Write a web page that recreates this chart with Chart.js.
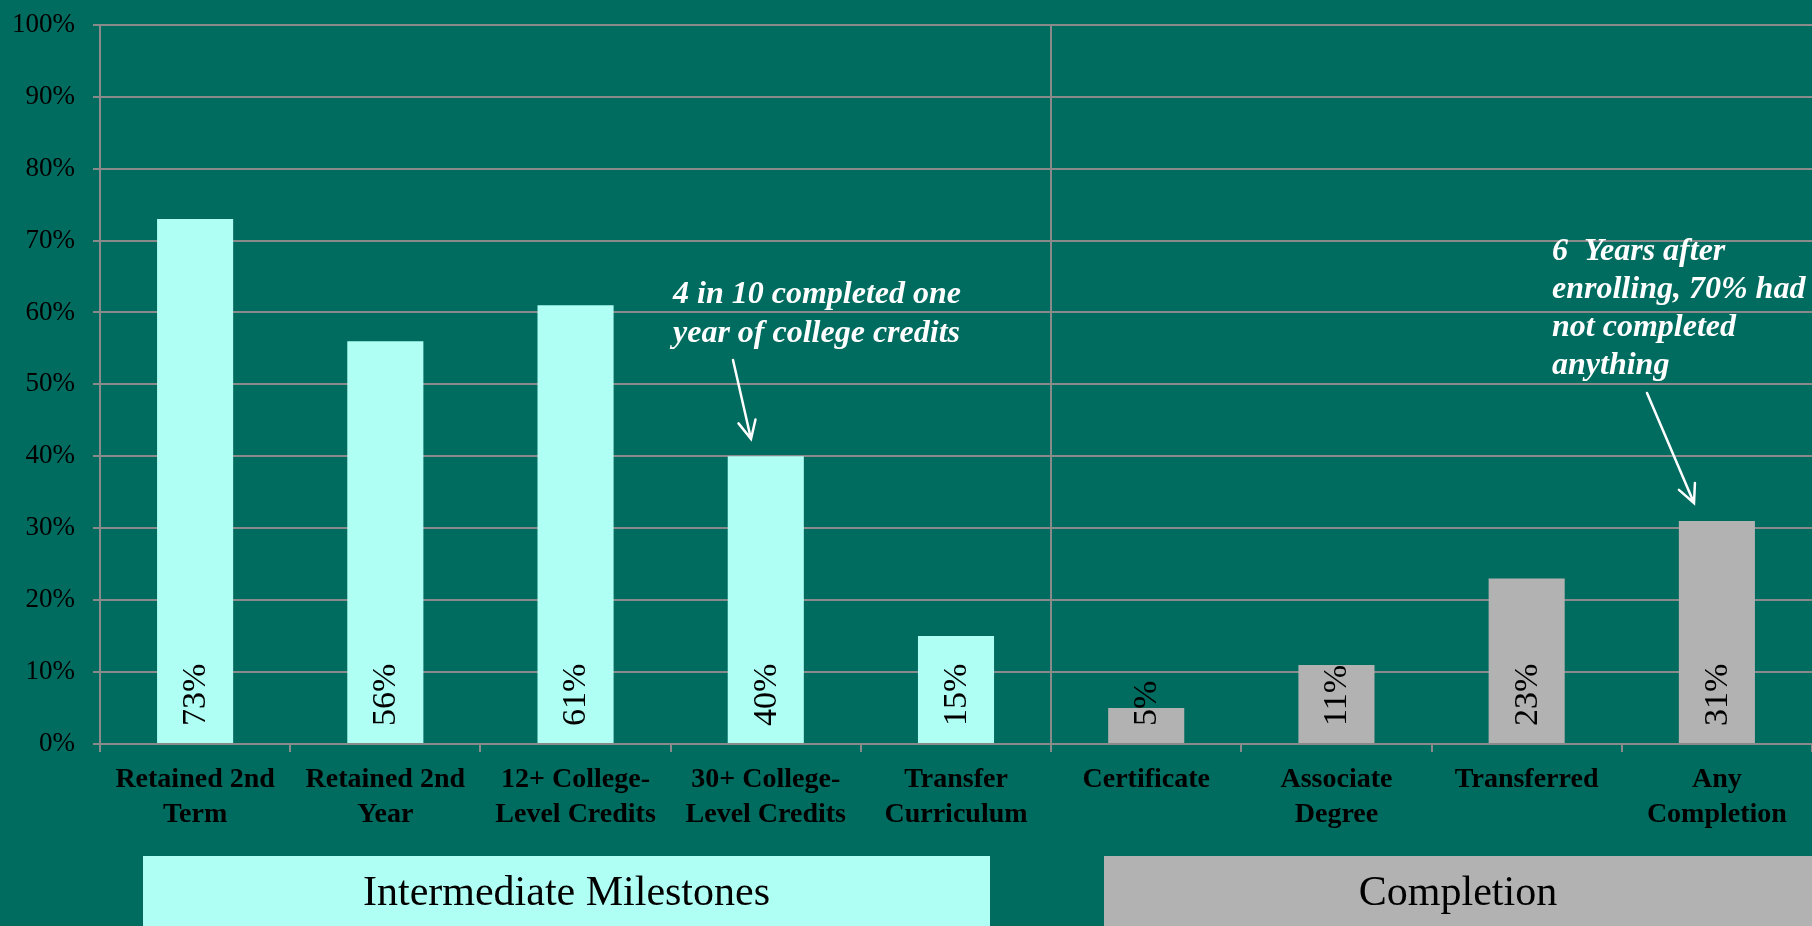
<!DOCTYPE html>
<html>
<head>
<meta charset="utf-8">
<script src="https://cdn.jsdelivr.net/npm/chart.js@4/dist/chart.umd.min.js"></script>
<style>
  html, body { margin: 0; padding: 0; background: #006b5f; }
  #wrap { width: 1812px; height: 926px; position: relative; }
</style>
</head>
<body>
<div id="wrap"><canvas id="milestoneChart"></canvas></div>
<script>
// categories and values
let categories = [
    ['Retained 2nd', 'Term'],
    ['Retained 2nd', 'Year'],
    ['12+ College-', 'Level Credits'],
    ['30+ College-', 'Level Credits'],
    ['Transfer', 'Curriculum'],
    ['Certificate'],
    ['Associate', 'Degree'],
    ['Transferred'],
    ['Any', 'Completion']
];
let shareValues = [73, 56, 61, 40, 15, 5, 11, 23, 31];
let groupNames = ['Intermediate Milestones', 'Completion'];
let groupOf = [0, 0, 0, 0, 0, 1, 1, 1, 1];
let yTicks = [0, 10, 20, 30, 40, 50, 60, 70, 80, 90, 100];

let cyan = '#b0fff4';
let grey = '#b2b2b2';
let gridGrey = '#8a8a8a';
let serif = "'Liberation Serif', 'Times New Roman', serif";

// bar value labels, rotated, sitting at the bottom of each bar
let barLabels = {
    id: 'barLabels',
    afterDatasetsDraw(chart) {
        let ctx = chart.ctx;
        let meta = chart.getDatasetMeta(0);
        ctx.save();
        ctx.fillStyle = '#000';
        ctx.font = '34px ' + serif;
        ctx.textAlign = 'left';
        ctx.textBaseline = 'middle';
        meta.data.forEach(function(bar, i) {
            ctx.save();
            ctx.translate(bar.x + 1, bar.base - 17);
            ctx.rotate(-Math.PI / 2);
            ctx.fillText(shareValues[i] + '%', 0, 0);
            ctx.restore();
        });
        ctx.restore();
    }
};

function arrow(ctx, x1, y1, x2, y2) {
    let a = Math.atan2(y2 - y1, x2 - x1);
    ctx.beginPath();
    ctx.moveTo(x1, y1);
    ctx.lineTo(x2, y2);
    ctx.moveTo(x2 - 20 * Math.cos(a - 0.45), y2 - 20 * Math.sin(a - 0.45));
    ctx.lineTo(x2, y2);
    ctx.lineTo(x2 - 20 * Math.cos(a + 0.45), y2 - 20 * Math.sin(a + 0.45));
    ctx.stroke();
}

// group boxes under the axis + the two call-outs
let extras = {
    id: 'extras',
    afterDraw(chart) {
        let ctx = chart.ctx;
        ctx.save();
        ctx.font = '42px ' + serif;
        ctx.textAlign = 'center';
        ctx.textBaseline = 'middle';
        let boxes = [[143, 990, cyan], [1104, 1812, grey]];
        boxes.forEach(function(b, i) {
            ctx.fillStyle = b[2];
            ctx.fillRect(b[0], 856, b[1] - b[0], 926 - 856);
            ctx.fillStyle = '#000';
            ctx.fillText(groupNames[i], (b[0] + b[1]) / 2, 894);
        });

        ctx.fillStyle = '#fff';
        ctx.strokeStyle = '#fff';
        ctx.lineWidth = 2.5;
        ctx.lineCap = 'round';
        ctx.font = 'italic bold 32px ' + serif;
        ctx.textAlign = 'left';
        ctx.fillText('4 in 10 completed one', 673, 295);
        ctx.fillText('year of college credits', 673, 334);
        arrow(ctx, 733, 360, 751, 439);

        let note = ['6  Years after', 'enrolling, 70% had', 'not completed', 'anything'];
        note.forEach(function(t, i) {
            ctx.fillText(t, 1552, 252 + i * 38);
        });
        arrow(ctx, 1647, 393, 1694, 503);
        ctx.restore();
    }
};

let chartCtx = document.getElementById('milestoneChart').getContext('2d');
new Chart(chartCtx, {
    type: 'bar',
    data: {
        labels: categories,
        datasets: [{
            data: shareValues,
            backgroundColor: groupOf.map(g => g === 0 ? cyan : grey),
            barPercentage: 0.4,
            categoryPercentage: 1.0
        }]
    },
    options: {
        responsive: true,
        maintainAspectRatio: false,
        animation: false,
        layout: { padding: { top: 22, right: 0, left: 0, bottom: 0 } },
        plugins: { legend: { display: false }, tooltip: { enabled: false } },
        scales: {
            x: {
                grid: {
                    offset: true,
                    color: c => c.index === 5 ? gridGrey : 'rgba(0,0,0,0)',
                    tickColor: gridGrey,
                    tickLength: 8,
                    lineWidth: 2
                },
                border: { color: gridGrey, width: 2 },
                ticks: {
                    color: '#000',
                    font: { family: serif, size: 28, weight: 'bold', lineHeight: 1.25 },
                    maxRotation: 0,
                    autoSkip: false,
                    padding: 10
                },
                afterFit: s => { s.height = 182; }
            },
            y: {
                min: 0,
                max: 100,
                afterBuildTicks: s => { s.ticks = yTicks.map(v => ({ value: v })); },
                grid: { color: gridGrey, tickColor: gridGrey, tickLength: 7, lineWidth: 2 },
                border: { color: gridGrey, width: 2 },
                ticks: {
                    color: '#000',
                    font: { family: serif, size: 27, lineHeight: 0.5 },
                    padding: 18,
                    callback: v => v + '%'
                },
                afterFit: s => { s.width = 100; }
            }
        }
    },
    plugins: [barLabels, extras]
});
</script>
</body>
</html>
